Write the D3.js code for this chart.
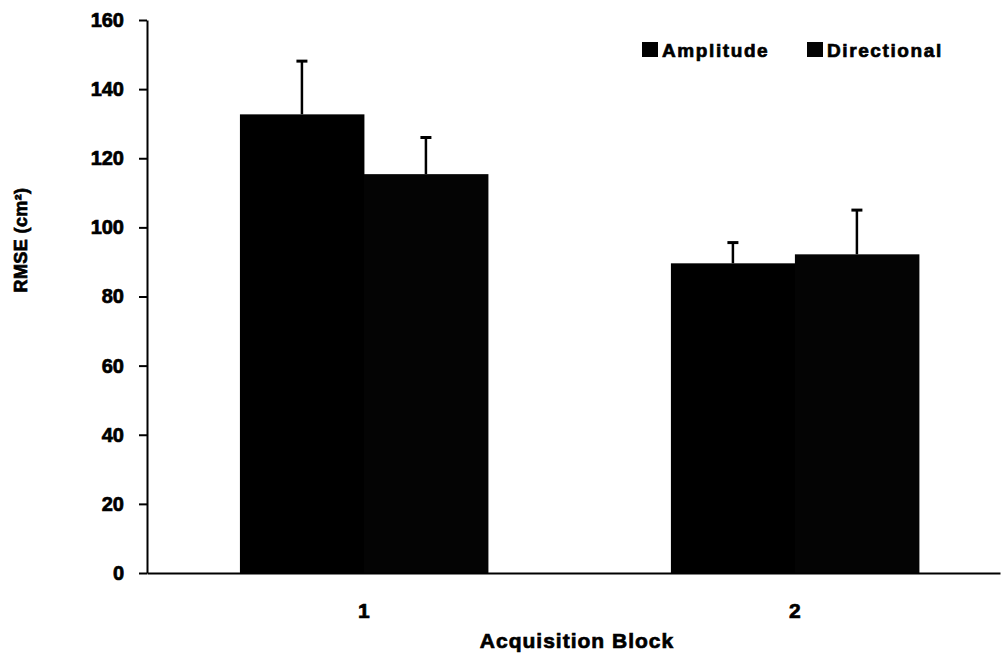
<!DOCTYPE html>
<html>
<head>
<meta charset="utf-8">
<script src="https://cdn.jsdelivr.net/npm/d3@7"></script>
<style>
  body { margin: 0; background: #fff; }
  text { font-family: "Liberation Sans", Arial, sans-serif; font-weight: bold; fill: #000; stroke: #000; stroke-width: 0.7px; }
</style>
</head>
<body>
<script>
// values
var blocks = ["1", "2"];
var seriesNames = ["Amplitude", "Directional"];
var amplitudeMean = [132.7, 89.6];
var amplitudeErr = [15.4, 6.0];
var directionalMean = [115.4, 92.2];
var directionalErr = [10.6, 12.8];
var yTicks = [0, 20, 40, 60, 80, 100, 120, 140, 160];
var colors = ["#000", "#040404"];

var width = 1002, height = 658;
var svg = d3.select("body").append("svg")
  .attr("width", width)
  .attr("height", height);

var rows = [];
for (var i = 0; i < blocks.length; i++) {
  rows.push({block: blocks[i], series: "Amplitude", mean: amplitudeMean[i], err: amplitudeErr[i]});
  rows.push({block: blocks[i], series: "Directional", mean: directionalMean[i], err: directionalErr[i]});
}

var y = d3.scaleLinear().domain([0, 160]).range([573, 20]);
var x = d3.scaleBand().domain(blocks).range([147, 1000])
  .paddingInner(0.4246).paddingOuter(0.2019).align(0.534);
var xs = d3.scaleBand().domain(seriesNames).range([0, x.bandwidth()]);
var color = d3.scaleOrdinal().domain(seriesNames).range(colors);

// bars
svg.append("g").selectAll("rect")
  .data(rows)
  .enter().append("rect")
  .attr("x", function(d) { return x(d.block) + xs(d.series); })
  .attr("y", function(d) { return y(d.mean); })
  .attr("width", xs.bandwidth() + 0.5)
  .attr("height", function(d) { return y(0) - y(d.mean); })
  .attr("fill", function(d) { return color(d.series); });

// upper error bars
var eb = svg.append("g").selectAll("g")
  .data(rows)
  .enter().append("g");
eb.append("line")
  .attr("x1", function(d) { return x(d.block) + xs(d.series) + xs.bandwidth() / 2; })
  .attr("x2", function(d) { return x(d.block) + xs(d.series) + xs.bandwidth() / 2; })
  .attr("y1", function(d) { return y(d.mean); })
  .attr("y2", function(d) { return y(d.mean + d.err); })
  .attr("stroke", "#000")
  .attr("stroke-width", 2.5);
eb.append("line")
  .attr("x1", function(d) { return x(d.block) + xs(d.series) + xs.bandwidth() / 2 - 5.5; })
  .attr("x2", function(d) { return x(d.block) + xs(d.series) + xs.bandwidth() / 2 + 5.5; })
  .attr("y1", function(d) { return y(d.mean + d.err); })
  .attr("y2", function(d) { return y(d.mean + d.err); })
  .attr("stroke", "#000")
  .attr("stroke-width", 3);

// y axis
var yAxis = svg.append("g")
  .attr("transform", "translate(147,0)")
  .call(d3.axisLeft(y).tickValues(yTicks).tickSize(8).tickSizeOuter(0).tickPadding(15));
yAxis.selectAll("path, line").attr("stroke", "#000").attr("stroke-width", 2);
yAxis.selectAll("text")
  .style("font-size", "20px")
  .style("font-family", "'Liberation Sans', Arial, sans-serif")
  .style("font-weight", "bold")
  .attr("fill", "#000");

// x axis
var xAxis = svg.append("g")
  .attr("transform", "translate(0,573)")
  .call(d3.axisBottom(x).tickSize(0).tickPadding(30));
xAxis.selectAll("path").attr("stroke", "#000").attr("stroke-width", 2);
xAxis.selectAll("text")
  .style("font-size", "21px")
  .style("font-family", "'Liberation Sans', Arial, sans-serif")
  .style("font-weight", "bold")
  .attr("fill", "#000");

// axis titles
svg.append("text")
  .attr("x", 577)
  .attr("y", 648)
  .attr("text-anchor", "middle")
  .style("font-size", "21px")
  .style("letter-spacing", "1px")
  .text("Acquisition Block");

svg.append("text")
  .attr("transform", "translate(27,240) rotate(-90)")
  .attr("text-anchor", "middle")
  .style("font-size", "18px")
  .style("letter-spacing", "0.4px")
  .text("RMSE (cm²)");

// legend
var legend = svg.append("g").selectAll("g")
  .data(seriesNames)
  .enter().append("g")
  .attr("transform", function(d, i) { return "translate(" + [642, 807][i] + ",42)"; });
legend.append("rect")
  .attr("width", 16)
  .attr("height", 15)
  .attr("fill", function(d) { return color(d); });
legend.append("text")
  .attr("x", 20)
  .attr("y", 15)
  .style("font-size", "19px")
  .style("letter-spacing", "1.6px")
  .text(function(d) { return d; });
</script>
</body>
</html>
